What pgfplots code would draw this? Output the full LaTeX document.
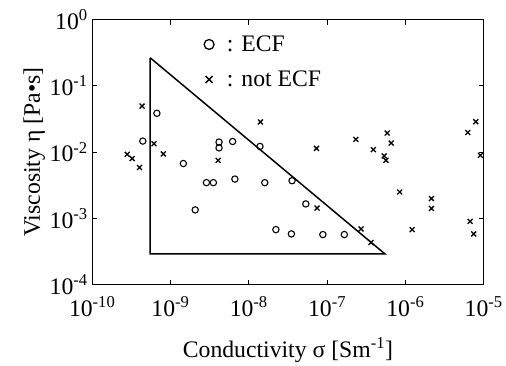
\documentclass[border=0pt]{standalone}
\usepackage{fontspec}
\setmainfont{Liberation Serif}
\usepackage{pgfplots}
\pgfplotsset{compat=1.18}
\begin{document}
\begin{tikzpicture}
\begin{axis}[
  scale only axis,
  width=395bp, height=267bp,
  xmode=log, ymode=log,
  xmin=1e-10, xmax=1e-5,
  ymin=1e-4, ymax=1,
  xtick={1e-10,1e-9,1e-8,1e-7,1e-6,1e-5},
  xticklabels={10\textsuperscript{-10},10\textsuperscript{-9},10\textsuperscript{-8},10\textsuperscript{-7},10\textsuperscript{-6},10\textsuperscript{-5}},
  ytick={1e-4,1e-3,1e-2,1e-1,1},
  yticklabels={10\textsuperscript{-4},10\textsuperscript{-3},10\textsuperscript{-2},10\textsuperscript{-1},10\textsuperscript{0}},
  xminorticks=false, yminorticks=false,
  tick align=inside,
  major tick length=5bp,
  tick style={black, line width=1bp},
  axis line style={black, line width=1.3bp},
  tick label style={font=\fontsize{24}{28}\selectfont},
  xticklabel style={yshift=-9bp},
  yticklabel style={xshift=-1bp},
  label style={font=\fontsize{24}{28}\selectfont},
  xlabel={Conductivity σ [Sm\textsuperscript{-1}]},
  ylabel={Viscosity η [Pa\textbullet s]},
  xlabel style={yshift=-14bp},
  ylabel style={yshift=-2bp},
  clip mode=individual,
  legend style={draw=none, fill=none, at={(0.278,0.955)}, anchor=north west,
    font=\fontsize{24}{28}\selectfont, row sep=14bp,
    /tikz/every odd column/.append style={column sep=11bp}},
  legend cell align=left,
]
% triangle (ECF region)
\addplot[black, line width=1.5bp, forget plot] coordinates {
  (5.5e-10,0.267) (5.5e-10,2.9e-4) (5.47e-7,2.9e-4) (5.5e-10,0.267)
};
% ECF
\addplot[only marks, mark=o, mark size=3.2bp, mark options={line width=1.1bp, black}, forget plot] coordinates {
  (6.71e-10,3.86e-2) (4.43e-10,1.47e-2) (4.17e-9,1.42e-2) (4.17e-9,1.16e-2)
  (6.22e-9,1.45e-2) (1.39e-8,1.22e-2) (1.46e-9,6.73e-3) (2.88e-9,3.46e-3)
  (3.53e-9,3.46e-3) (6.65e-9,3.92e-3) (1.60e-8,3.46e-3) (3.57e-8,3.70e-3)
  (5.35e-8,1.65e-3) (2.07e-9,1.34e-3) (2.22e-8,6.75e-4) (3.50e-8,5.81e-4)
  (8.83e-8,5.68e-4) (1.66e-7,5.68e-4)
};
% not ECF
\addplot[only marks, mark=x, mark size=3.5bp, mark options={line width=1.3bp, black}, forget plot] coordinates {
  (4.34e-10,4.98e-2) (6.15e-10,1.34e-2) (2.80e-10,9.27e-3) (3.24e-10,8.00e-3)
  (4.02e-10,5.86e-3) (8.09e-10,9.40e-3) (4.06e-9,7.53e-3) (1.41e-8,2.86e-2)
  (7.33e-8,1.14e-2) (2.33e-7,1.56e-2) (3.90e-7,1.09e-2) (5.86e-7,1.94e-2)
  (6.59e-7,1.37e-2) (5.37e-7,8.77e-3) (5.64e-7,7.53e-3) (6.27e-6,1.98e-2)
  (7.93e-6,2.89e-2) (9.08e-6,8.95e-3) (7.46e-8,1.43e-3) (8.47e-7,2.50e-3)
  (2.15e-6,1.99e-3) (2.15e-6,1.41e-3) (6.71e-6,8.99e-4) (7.46e-6,5.81e-4)
  (1.22e-6,6.75e-4) (2.72e-7,6.90e-4) (3.64e-7,4.31e-4)
};
\addlegendimage{only marks, mark=o, mark size=5bp, mark options={line width=1.3bp, black}}
\addlegendentry{: ECF}
\addlegendimage{only marks, mark=x, mark size=5bp, mark options={line width=1.4bp, black}}
\addlegendentry{: not ECF}
\end{axis}
\path (current axis.south west) ++(-93bp,-80bp) rectangle ++(506bp,367bp);
\end{tikzpicture}
\end{document}
